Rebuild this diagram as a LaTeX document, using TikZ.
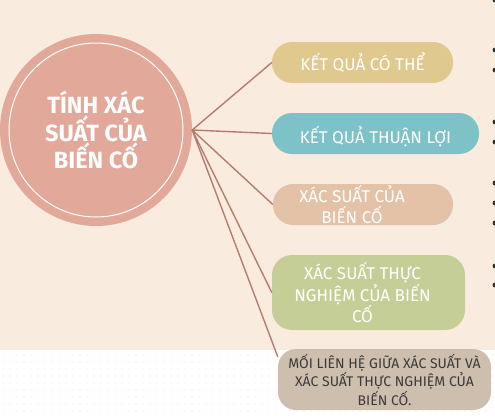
\documentclass[tikz,border=0pt]{standalone}
\usepackage{fontspec}
\setmainfont{Fira Sans}

\begin{document}
\begin{tikzpicture}[x=1pt,y=-1pt]

% Define the colors for the background and the boxes
\definecolor{paper}{HTML}{F9ECDF}
\definecolor{dotgray}{HTML}{E6E6E6}
\definecolor{rosy}{HTML}{E2A99A}
\definecolor{linkbrown}{HTML}{B47C6E}
\definecolor{boxgold}{HTML}{DFC98F}
\definecolor{boxteal}{HTML}{7CC2C6}
\definecolor{boxpeach}{HTML}{E3C2A7}
\definecolor{boxolive}{HTML}{C6CE97}
\definecolor{boxtaupe}{HTML}{CDBEAD}
\definecolor{darktext}{HTML}{3A3A3A}

\tikzset{
    topic/.style={rounded corners=20pt, text=white, align=center, inner sep=0pt,
        font=\fontsize{17}{20.5}\selectfont},
    link/.style={draw=linkbrown, line width=1.4pt}
}

\useasboundingbox (0,0) rectangle (495,416);

% Background: cream on top, dotted white strip below
\fill[paper] (0,0) rectangle (495,350);
\foreach \dx in {3,10,...,495} {
    \foreach \dy in {355,362,...,414} {
        \fill[dotgray] (\dx,\dy) circle (0.7);
    }
}

% Bullets cut off at the right edge
\foreach \by in {0,50,70,122,142,183,203,223,266,285} {
    \fill[black!80] (495,\by) circle (2.5);
}

% Central circle
\node[circle, fill=rosy, minimum size=192pt, inner sep=0pt, text=white, align=center,
    font=\bfseries\fontsize{23.5}{25}\selectfont] (topic) at (96,130) {T\'INH X\'AC\\SUẤT CỦA\\BIẾN CỐ};
\draw[white, line width=1pt] (topic.center) circle (87);

% Boxes on the right
\node[topic, fill=boxgold, minimum width=181pt, minimum height=41pt] (kqct) at (362.5,62.5) {KẾT QUẢ CÓ THỂ};
\node[topic, fill=boxteal, minimum width=207pt, minimum height=41pt, text height=24pt] (kqtl) at (375.5,133.5) {KẾT QUẢ THUẬN LỢI};
\node[topic, fill=boxpeach, minimum width=180pt, minimum height=41pt] (xsbc) at (363,204.5)
    {\hspace*{-22pt}XÁC SUẤT CỦA\\\hspace*{-22pt}BIẾN CỐ};
\node[topic, fill=boxolive, minimum width=193pt, minimum height=75pt,
    font=\fontsize{17}{21.5}\selectfont] (xstn) at (368.5,292.5)
    {\hspace*{-12pt}XÁC SUẤT THỰC\\\hspace*{-12pt}NGHIỆM CỦA BIẾN\\\hspace*{-12pt}CỐ};
\node[topic, fill=boxtaupe, text=darktext, minimum width=213pt, minimum height=61pt, rounded corners=18pt,
    font=\fontsize{14}{18.5}\selectfont] (lienhe) at (384.5,379.5) {MỐI LIÊN HỆ GIỮA XÁC SUẤT VÀ\\XÁC SUẤT THỰC NGHIỆM CỦA\\BIẾN CỐ.};

% Links from the circle to each box
\foreach \target in {kqct.west, kqtl.west, xsbc.west, xstn.west, lienhe.168} {
    \draw[link] (topic.east) -- (\target);
}

\end{tikzpicture}
\end{document}
